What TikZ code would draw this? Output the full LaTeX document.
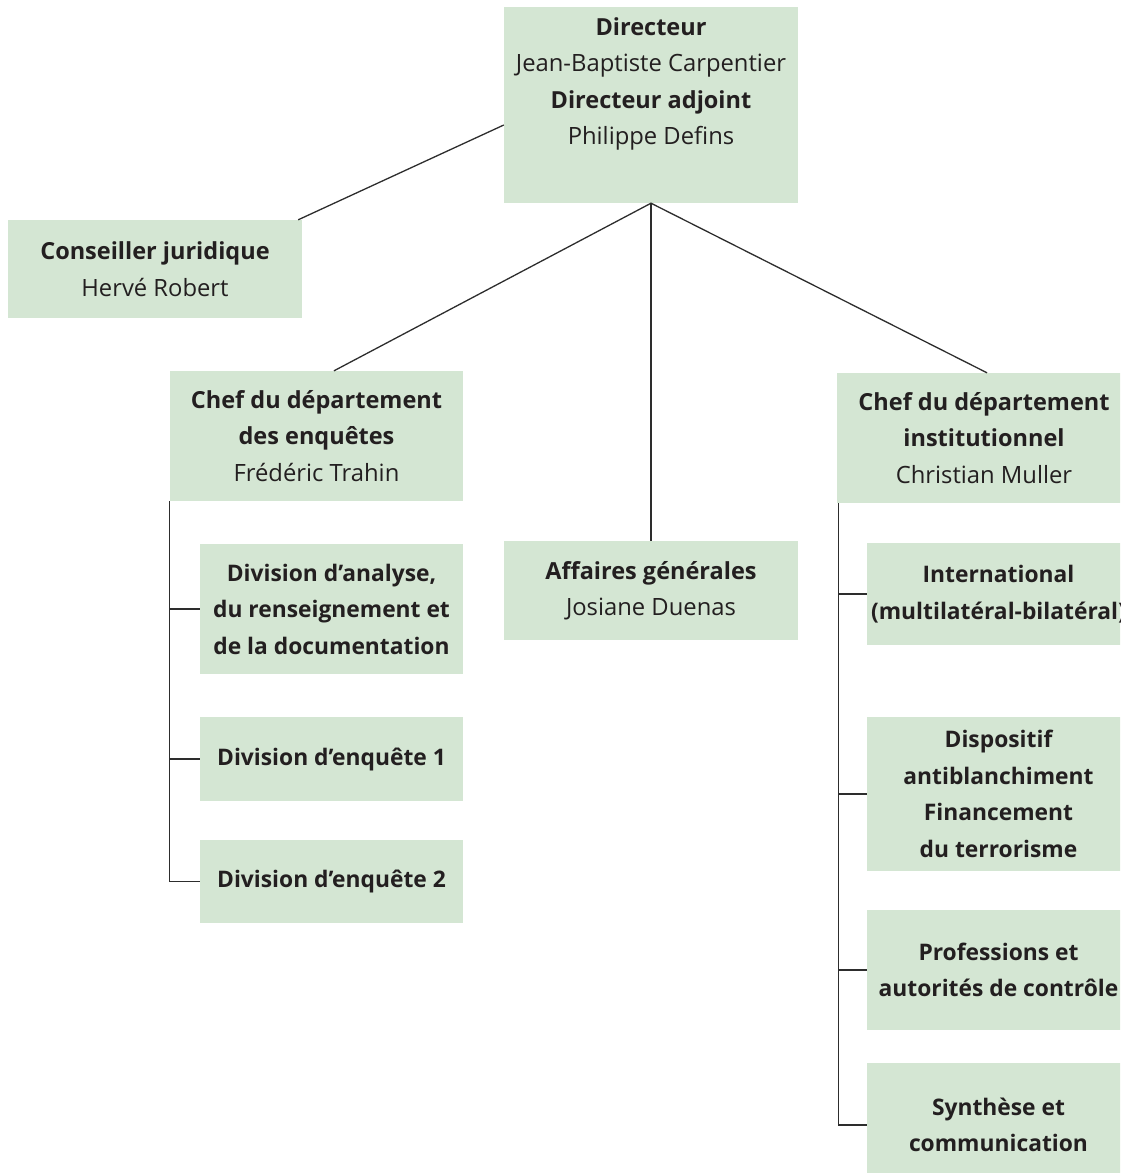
\documentclass[tikz,border=0pt]{standalone}
\usepackage{fontspec}
\setmainfont{Open Sans}
\usetikzlibrary{calc}
\definecolor{boxgreen}{RGB}{212,230,211}
\definecolor{txtdark}{RGB}{35,31,32}
\definecolor{linkgray}{RGB}{45,45,45}
\tikzset{
  orgbox/.style={rectangle, fill=boxgreen, inner sep=0pt, align=center,
    text=txtdark, font=\fontsize{23.8}{36.5}\selectfont},
  titlebox/.style={orgbox, font=\bfseries\fontsize{22.8}{36.5}\selectfont},
  wide/.style={minimum width=294pt},
  narrow/.style={minimum width=263pt},
  link/.style={draw=linkgray, line width=1.3pt}
}
\newcommand{\boxtitle}[1]{{\bfseries\fontsize{23.5}{36.5}\selectfont #1}}
\begin{document}
\begin{tikzpicture}[x=1pt, y=-1pt]
\useasboundingbox (0,0) rectangle (1120,1173);
\clip (0,0) rectangle (1120,1173);

% top management
\node[orgbox, wide, minimum height=196pt] (dir) at (651,105) {};
\node[orgbox, fill=none] (dirtxt) at (651,84)
  {\boxtitle{Directeur}\\Jean-Baptiste Carpentier\\\boxtitle{Directeur adjoint}\\Philippe Defins};

% legal adviser
\node[orgbox, wide, minimum height=98pt] (cons) at (155,269)
  {\boxtitle{Conseiller juridique}\\Hervé Robert};

% departments
\node[orgbox, minimum width=293pt, minimum height=130pt] (ldept) at (316.5,436)
  {\boxtitle{Chef du département}\\\boxtitle{des enquêtes}\\Frédéric Trahin};
\node[orgbox, wide, minimum height=99pt] (aff) at (651,590.5)
  {\boxtitle{Affaires générales}\\Josiane Duenas};
\node[orgbox, wide, minimum height=130pt] (rdept) at (984,438)
  {\boxtitle{Chef du département}\\\boxtitle{institutionnel}\\Christian Muller};

% investigation divisions
\node[titlebox, narrow, minimum height=130pt] (d1) at (331.5,609)
  {Division d’analyse,\\du renseignement et\\de la documentation};
\node[titlebox, narrow, minimum height=84pt] (d2) at (331.5,759)
  {Division d’enquête 1};
\node[titlebox, narrow, minimum height=83pt] (d3) at (331.5,881.5)
  {Division d’enquête 2};

% institutional units
\node[titlebox, narrow, minimum height=102pt] (r1) at (998.5,594)
  {International\\(multilatéral-bilatéral)};
\node[titlebox, narrow, minimum height=154pt] (r2) at (998.5,794)
  {Dispositif\\antiblanchiment\\Financement\\du terrorisme};
\node[titlebox, narrow, minimum height=120pt] (r3) at (998.5,970)
  {Professions et\\autorités de contrôle};
\node[titlebox, narrow, minimum height=124pt] (r4) at (998.5,1125)
  {Synthèse et\\communication};

% connectors from the director
\draw[link] ([xshift=-4pt]cons.north east) -- ([yshift=-20pt]dir.west);
\draw[link] ([xshift=17.5pt]ldept.north) -- (dir.south) -- ([xshift=3pt]rdept.north);
\draw[link] (dir.south) -- (aff.north);

% investigation department tree
\coordinate (ltrunk) at (ldept.south west);
\draw[link] (ltrunk) |- (d3.west);
\draw[link] (d1.west) -- (d1.west -| ltrunk);
\draw[link] (d2.west) -- (d2.west -| ltrunk);

% institutional department tree
\coordinate (rtrunk) at ([xshift=2pt]rdept.south west);
\draw[link] (rtrunk) |- (r4.west);
\draw[link] (r1.west) -- (r1.west -| rtrunk);
\draw[link] (r2.west) -- (r2.west -| rtrunk);
\draw[link] (r3.west) -- (r3.west -| rtrunk);
\end{tikzpicture}
\end{document}
